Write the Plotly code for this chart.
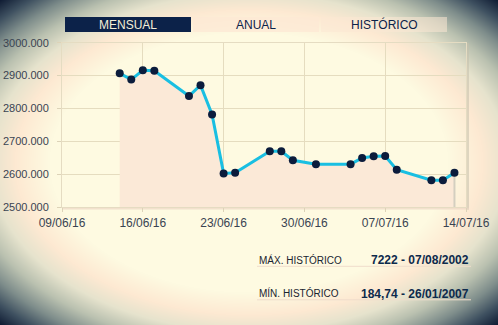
import base64
import struct
import zlib

import numpy as np
import plotly.graph_objects as go

# Daily closing values
dates = [
    "2016-06-14", "2016-06-15", "2016-06-16", "2016-06-17", "2016-06-20",
    "2016-06-21", "2016-06-22", "2016-06-23", "2016-06-24", "2016-06-27",
    "2016-06-28", "2016-06-29", "2016-07-01", "2016-07-04", "2016-07-05",
    "2016-07-06", "2016-07-07", "2016-07-08", "2016-07-11", "2016-07-12",
    "2016-07-13",
]
values = [
    2907, 2888, 2916, 2915, 2838,
    2871, 2782, 2603, 2605, 2670,
    2670, 2643, 2631, 2631, 2650,
    2655, 2656, 2614, 2582, 2582,
    2605,
]

tabs = ["MENSUAL", "ANUAL", "HISTÓRICO"]
record_labels = ["MÁX. HISTÓRICO", "MÍN. HISTÓRICO"]
record_values = ["7222 - 07/08/2002", "184,74 - 26/01/2007"]

x_range = ["2016-06-09", "2016-07-14"]
y_range = [2500, 3000]

W, H = 498, 325
FONT = "Liberation Sans"
NAVY = "#0c2249"


def px(x):
    return x / W


def py(y):
    return 1 - y / H


def png_uri(rgb):
    h, w, _ = rgb.shape
    raw = b"".join(b"\x00" + row.tobytes() for row in rgb)

    def chunk(tag, data):
        c = struct.pack(">I", len(data)) + tag + data
        return c + struct.pack(">I", zlib.crc32(tag + data) & 0xFFFFFFFF)

    png = b"\x89PNG\r\n\x1a\n"
    png += chunk(b"IHDR", struct.pack(">IIBBBBB", w, h, 8, 2, 0, 0, 0))
    png += chunk(b"IDAT", zlib.compress(raw, 9))
    png += chunk(b"IEND", b"")
    return "data:image/png;base64," + base64.b64encode(png).decode()


# Warm vignette backdrop
gx = (np.arange(W) + 0.5 - W / 2) / (W / 2)
gy = (np.arange(H) + 0.5 - H / 2) / (H / 2)
r = np.sqrt(gx[None, :] ** 2 + gy[:, None] ** 2)
stops = [0.0, 0.80, 0.94, 1.04, 1.14, 1.24, 1.33, 1.42]
cols = np.array([
    (254, 250, 225), (254, 250, 225), (253, 233, 210), (230, 227, 205),
    (186, 193, 176), (126, 141, 139), (62, 80, 96), (12, 24, 48),
], dtype=float)
bg = np.stack([np.interp(r, stops, cols[:, k]) for k in range(3)], axis=-1)
bg = np.clip(bg, 0, 255).astype(np.uint8)

fig = go.Figure()

# Shaded area under the series
fig.add_trace(go.Scatter(
    x=dates, y=values, mode="lines", line=dict(width=0),
    fill="tozeroy", fillcolor="#fbe9d7", hoverinfo="skip", showlegend=False,
))
# Closing edge of the shaded area
fig.add_trace(go.Scatter(
    x=[dates[-1], dates[-1]], y=[values[-1], y_range[0]], mode="lines",
    line=dict(color="#d4cfc0", width=2), hoverinfo="skip", showlegend=False,
))
# Main series
fig.add_trace(go.Scatter(
    x=dates, y=values, mode="lines+markers",
    line=dict(color="#19bfe2", width=3),
    marker=dict(color="#0b1c3c", size=8),
    showlegend=False,
))

shapes = []
annotations = []

# Period tabs
tab_boxes = [(65, 191), (193, 319), (321, 447)]
tab_fill = [NAVY, "rgba(252,232,212,0.75)", "rgba(252,232,212,0.55)"]
tab_text = ["#f4efd8", NAVY, NAVY]
for name, (x0, x1), fc, tc in zip(tabs, tab_boxes, tab_fill, tab_text):
    shapes.append(dict(type="rect", xref="paper", yref="paper",
                       x0=px(x0), x1=px(x1), y0=py(32), y1=py(17),
                       fillcolor=fc, line=dict(width=0), layer="above"))
    annotations.append(dict(text=name, xref="paper", yref="paper",
                            x=px((x0 + x1) / 2), y=py(24.5),
                            xanchor="center", yanchor="middle", showarrow=False,
                            font=dict(family=FONT, size=12, color=tc)))

# Plot frame shadow (right and bottom)
shapes.append(dict(type="rect", xref="paper", yref="paper",
                   x0=px(466.5), x1=px(469), y0=py(209.5), y1=py(43),
                   fillcolor="rgba(196,192,172,0.55)", line=dict(width=0), layer="below"))
shapes.append(dict(type="rect", xref="paper", yref="paper",
                   x0=px(62), x1=px(469), y0=py(209.5), y1=py(207.8),
                   fillcolor="rgba(236,214,196,0.7)", line=dict(width=0), layer="below"))

# Historic records
for i, (lab, val) in enumerate(zip(record_labels, record_values)):
    yc = 259.5 + i * 33.5
    annotations.append(dict(text=lab, xref="paper", yref="paper",
                            x=px(257), y=py(yc), xanchor="left", yanchor="middle",
                            showarrow=False,
                            font=dict(family=FONT, size=10, color="#1a2430")))
    annotations.append(dict(text="<b>" + val + "</b>", xref="paper", yref="paper",
                            x=px(470.5), y=py(yc + 0.5), xanchor="right", yanchor="middle",
                            showarrow=False,
                            font=dict(family=FONT, size=12, color="#0d2a4c")))
    shapes.append(dict(type="line", xref="paper", yref="paper",
                       x0=px(257), x1=px(471), y0=py(yc + 6.8), y1=py(yc + 6.8),
                       line=dict(color="#efdccb", width=1)))

fig.update_layout(
    width=W, height=H,
    margin=dict(l=0, r=0, t=0, b=0, autoexpand=False),
    paper_bgcolor="#fefae1",
    plot_bgcolor="rgba(0,0,0,0)",
    font=dict(family=FONT, color="#3a4452"),
    shapes=shapes,
    annotations=annotations,
    images=[dict(source=png_uri(bg), xref="paper", yref="paper",
                 x=0, y=1, sizex=1, sizey=1, sizing="stretch",
                 xanchor="left", yanchor="top", layer="below")],
    xaxis=dict(
        domain=[px(62), px(466)],
        range=x_range, type="date",
        tick0=x_range[0], dtick=7 * 24 * 3600 * 1000,
        tickformat="%d/%m/%y",
        showgrid=True, gridcolor="#e5dcbf", gridwidth=1,
        showline=True, linecolor="#e5dcc2", linewidth=1, mirror=True,
        ticks="outside", ticklen=4, tickcolor="#ddd3b8",
        tickfont=dict(family=FONT, size=12, color="#3a4452"),
        zeroline=False, fixedrange=True, automargin=False,
    ),
    yaxis=dict(
        domain=[py(207.3), py(42.7)],
        range=y_range, dtick=100,
        tickformat=".3f",
        showgrid=True, gridcolor="#e5dcbf", gridwidth=1,
        showline=True, linecolor="#e5dcc2", linewidth=1, mirror=True,
        ticks="outside", ticklen=4, tickcolor="#ddd3b8",
        ticklabelstandoff=6,
        tickfont=dict(family=FONT, size=11, color="#3a4452"),
        zeroline=False, fixedrange=True, automargin=False,
    ),
)

fig.write_html("out.html")
